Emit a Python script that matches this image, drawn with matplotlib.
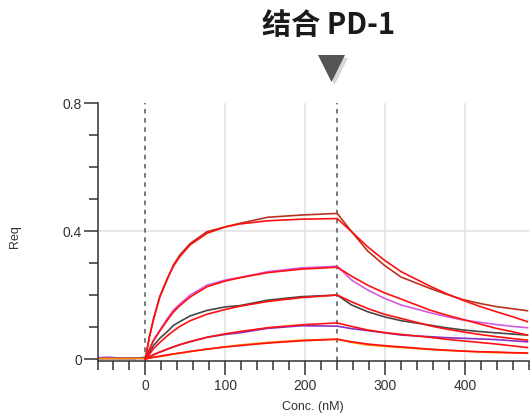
import numpy as np
import matplotlib.pyplot as plt
from matplotlib.patches import Polygon
from matplotlib.ticker import MultipleLocator

# time points (nM axis as labelled)
t_base = [-60, -45, -30, -15, 0]
t_assoc = [0, 5, 10, 18, 27, 35, 43, 56, 77, 100, 118, 153, 195, 240]
t_dis = [240, 258, 278, 299, 320, 356, 376, 397, 418, 439, 460, 478]

names = ["s1", "s2", "s3", "s4", "s5"]
data_colors = ["#b8321f", "#d45ae0", "#454545", "#8a2fc4", "#ff8a00"]

base_vals = {
    "s1": [0.002, 0.002, 0.002, 0.002, 0.005],
    "s2": [0.004, 0.005, 0.003, 0.003, 0.003],
    "s3": [0.002, 0.002, 0.002, 0.002, 0.005],
    "s4": [0.004, 0.005, 0.003, 0.002, 0.002],
    "s5": [0.002, 0.002, 0.002, 0.002, 0.002],
}
assoc_data = {
    "s1": [0.005, 0.07, 0.122, 0.195, 0.247, 0.294, 0.325, 0.361, 0.398, 0.413, 0.424, 0.443, 0.45, 0.455],
    "s2": [0.003, 0.03, 0.059, 0.09, 0.125, 0.153, 0.172, 0.2, 0.231, 0.247, 0.255, 0.273, 0.285, 0.29],
    "s3": [0.005, 0.02, 0.042, 0.065, 0.085, 0.105, 0.117, 0.135, 0.152, 0.163, 0.167, 0.184, 0.195, 0.2],
    "s4": [0.002, 0.008, 0.014, 0.022, 0.03, 0.038, 0.045, 0.054, 0.068, 0.077, 0.082, 0.096, 0.104, 0.103],
    "s5": [0.002, 0.003, 0.005, 0.008, 0.011, 0.016, 0.018, 0.023, 0.031, 0.038, 0.044, 0.052, 0.059, 0.062],
}
assoc_fit = {
    "s1": [0.0, 0.07, 0.125, 0.195, 0.25, 0.29, 0.32, 0.357, 0.393, 0.413, 0.422, 0.432, 0.437, 0.439],
    "s2": [0.0, 0.03, 0.057, 0.088, 0.12, 0.147, 0.167, 0.194, 0.226, 0.244, 0.254, 0.27, 0.281, 0.287],
    "s3": [0.0, 0.015, 0.032, 0.052, 0.072, 0.088, 0.102, 0.12, 0.14, 0.155, 0.165, 0.18, 0.192, 0.2],
    "s4": [0.0, 0.007, 0.013, 0.022, 0.031, 0.038, 0.045, 0.055, 0.068, 0.079, 0.086, 0.098, 0.107, 0.113],
    "s5": [0.0, 0.003, 0.006, 0.009, 0.013, 0.016, 0.019, 0.024, 0.031, 0.038, 0.042, 0.05, 0.057, 0.062],
}
dis_data = {
    "s1": [0.455, 0.398, 0.338, 0.293, 0.256, 0.221, 0.203, 0.186, 0.174, 0.164, 0.157, 0.151],
    "s2": [0.29, 0.247, 0.216, 0.19, 0.169, 0.145, 0.133, 0.122, 0.115, 0.108, 0.102, 0.098],
    "s3": [0.2, 0.169, 0.148, 0.132, 0.12, 0.106, 0.098, 0.091, 0.086, 0.082, 0.078, 0.075],
    "s4": [0.103, 0.095, 0.089, 0.082, 0.075, 0.07, 0.067, 0.065, 0.063, 0.061, 0.057, 0.054],
    "s5": [0.062, 0.052, 0.044, 0.04, 0.036, 0.03, 0.027, 0.025, 0.022, 0.02, 0.019, 0.018],
}
dis_fit = {
    "s1": [0.439, 0.398, 0.351, 0.309, 0.273, 0.228, 0.205, 0.184, 0.165, 0.148, 0.132, 0.117],
    "s2": [0.287, 0.259, 0.231, 0.207, 0.1875, 0.153, 0.138, 0.124, 0.11, 0.096, 0.085, 0.075],
    "s3": [0.2, 0.179, 0.158, 0.14, 0.127, 0.104, 0.094, 0.085, 0.077, 0.07, 0.064, 0.059],
    "s4": [0.113, 0.102, 0.091, 0.083, 0.077, 0.068, 0.062, 0.057, 0.052, 0.047, 0.041, 0.036],
    "s5": [0.062, 0.054, 0.047, 0.042, 0.038, 0.031, 0.028, 0.025, 0.023, 0.022, 0.02, 0.019],
}

title = "结合 PD-1"
x_label = "Conc. (nM)"
y_label = "Req"

plt.rcParams['font.family'] = ['Liberation Sans', 'DejaVu Sans']

W, H = 531, 416
fig = plt.figure(figsize=(W / 100, H / 100), dpi=100)
ax = fig.add_axes([97.5 / W, 1 - 361 / H, (529 - 97.5) / W, (361 - 103) / H])

# light grid
for gx in [100, 200, 300, 400]:
    ax.axvline(gx, color="#e2e2e2", lw=1.1, zorder=0)
ax.axhline(0.4, color="#e2e2e2", lw=1.1, zorder=0)

# injection markers
for vx in [0, 240]:
    ax.axvline(vx, color="#555555", lw=1.1, ls=(0, (3, 3)), zorder=1)

for name, c in zip(names, data_colors):
    tx = t_base + t_assoc[1:] + t_dis[1:]
    ty = base_vals[name] + assoc_data[name][1:] + dis_data[name][1:]
    ax.plot(tx, ty, color=c, lw=1.2, zorder=2)
for name in names:
    fx = t_assoc + t_dis[1:]
    fy = assoc_fit[name] + dis_fit[name][1:]
    ax.plot(fx, fy, color="#ff1010", lw=1.2, zorder=3)

ax.set_xlim(-60, 480)
ax.set_ylim(-0.006, 0.8)
ax.xaxis.set_major_locator(MultipleLocator(100))
ax.xaxis.set_minor_locator(MultipleLocator(20))
ax.yaxis.set_major_locator(MultipleLocator(0.4))
ax.yaxis.set_minor_locator(MultipleLocator(0.1))
ax.set_yticks([0, 0.4, 0.8])
ax.set_yticklabels(["0", "0.4", "0.8"])

for s in ["top", "right"]:
    ax.spines[s].set_visible(False)
for s in ["left", "bottom"]:
    ax.spines[s].set_color("#333333")
    ax.spines[s].set_linewidth(1.1)

ax.tick_params(which="major", length=10, width=1.1, color="#333333",
               labelsize=10, labelcolor="#333333")
ax.tick_params(which="minor", length=6.5, width=1.1, color="#333333")
ax.tick_params(axis="x", which="major", pad=3)
ax.tick_params(axis="y", which="major", pad=1)

fig.text(313 / W, 1 - 407 / H, x_label, ha="center", va="center",
         fontsize=9, color="#333333")
fig.text(15 / W, 1 - 237 / H, y_label, ha="center", va="center",
         rotation=90, fontsize=9, color="#333333")

fig.text(329 / W, 1 - 25 / H, title, ha="center", va="center",
         fontsize=21, fontweight="bold", color="#1a1a1a",
         family=["Noto Sans CJK SC", "DejaVu Sans"])

# arrow marker under the title (with a soft shadow)
def px(x, y):
    return (x / W, 1 - y / H)

shadow = Polygon([px(321, 58), px(348, 58), px(334.5, 85)], closed=True,
                 transform=fig.transFigure, facecolor="#bbbbbb", edgecolor="none", alpha=0.6)
tri = Polygon([px(318, 55), px(345, 55), px(331.5, 82)], closed=True,
              transform=fig.transFigure, facecolor="#555555", edgecolor="none")
fig.patches.extend([shadow, tri])

fig.savefig("out.png", dpi=100)
